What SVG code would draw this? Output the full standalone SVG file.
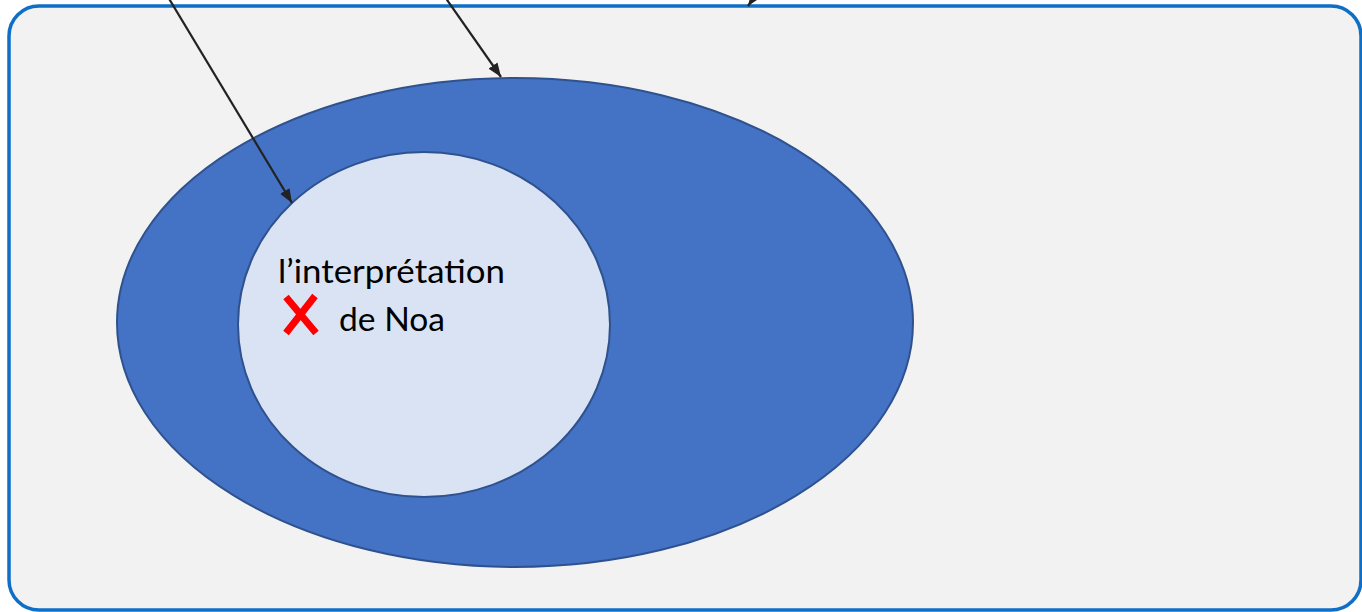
<svg xmlns="http://www.w3.org/2000/svg" width="1362" height="612" viewBox="0 0 1362 612">
<style>
.conn{stroke:#222;stroke-width:2.2;fill:none}
.lbl{font-family:Lato,"Liberation Sans",sans-serif;font-size:33px;fill:#000}
</style>
<defs>
<marker id="ah" viewBox="0 0 14 11" refX="14" refY="5.5" markerWidth="14" markerHeight="11" markerUnits="userSpaceOnUse" orient="auto">
<path d="M0,0 L14,5.5 L0,11 z" fill="#222"/>
</marker>
</defs>
<rect width="1362" height="612" fill="#fff"/>
<g id="frame">
<rect x="9" y="6" width="1352" height="604" rx="30" ry="30" fill="#f2f2f2" stroke="#0f6fc6" stroke-width="3.5"/>
</g>
<g id="outer">
<ellipse cx="515" cy="322.5" rx="398" ry="244.5" fill="#4472c4" stroke="#2f528f" stroke-width="2"/>
</g>
<g id="inner">
<ellipse cx="424" cy="324.5" rx="186" ry="172.5" fill="#dae3f3" stroke="#2f528f" stroke-width="2"/>
<text class="lbl" x="278" y="283" textLength="227" lengthAdjust="spacingAndGlyphs">l’interprétation</text>
<text class="lbl" x="339" y="331" textLength="106" lengthAdjust="spacingAndGlyphs">de Noa</text>
<path d="M286,297 L316,333 M315,296 L286,333" stroke="#ff0000" stroke-width="7" fill="none"/>
</g>
<g id="connectors">
<line class="conn" x1="168" y1="-3" x2="292" y2="203" marker-end="url(#ah)"/>
<line class="conn" x1="445" y1="-3" x2="501" y2="77" marker-end="url(#ah)"/>
<line class="conn" x1="780" y1="-40" x2="748" y2="6" marker-end="url(#ah)"/>
</g>
</svg>
